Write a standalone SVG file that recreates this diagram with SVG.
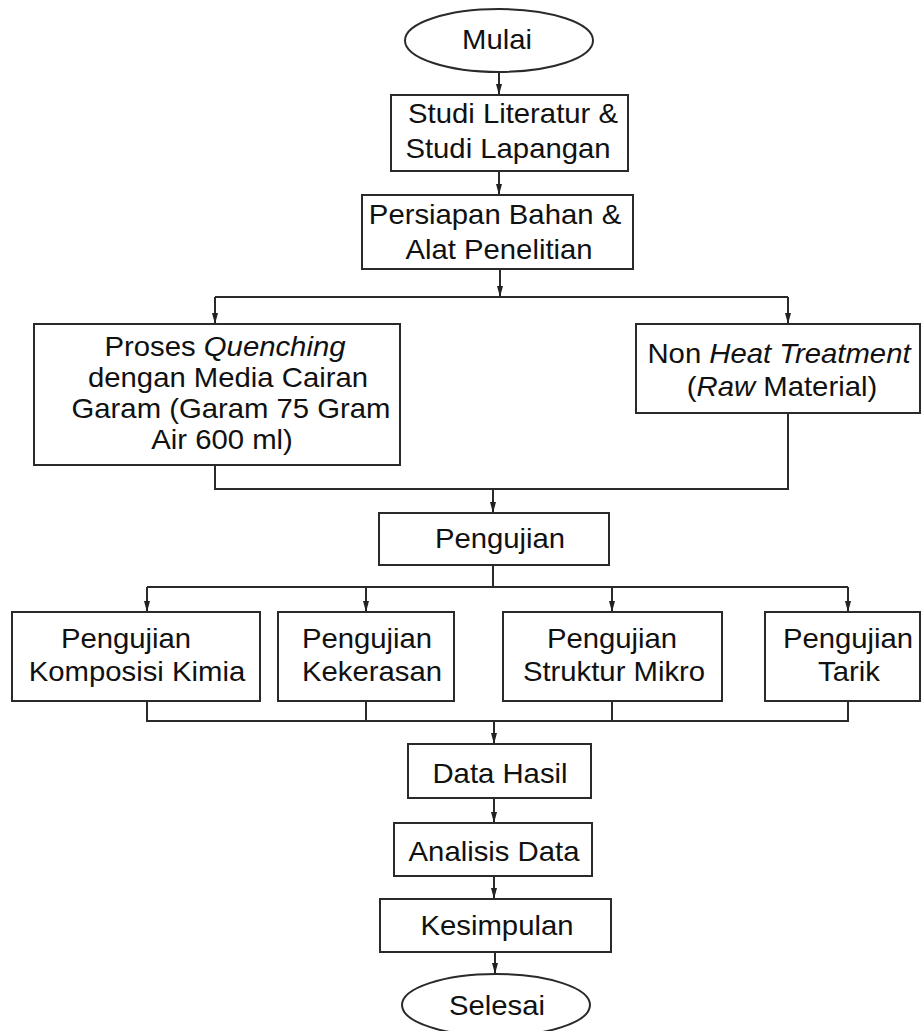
<svg xmlns="http://www.w3.org/2000/svg" width="921" height="1031" viewBox="0 0 921 1031">
<style>
.box{fill:#fff;stroke:#2a2a2a;stroke-width:2}
.t{font-family:"Liberation Sans",Arial,sans-serif;font-size:27px;fill:#111;text-anchor:middle}
.i{font-style:italic}
.c{fill:none;stroke:#2a2a2a;stroke-width:2}
.a{fill:none;stroke:#2a2a2a;stroke-width:2;marker-end:url(#ah)}
</style>
<defs>
<marker id="ah" markerUnits="userSpaceOnUse" markerWidth="11" markerHeight="6" refX="11" refY="3" orient="auto">
<path d="M0,0 L11,3 L0,6 z" fill="#222"/>
</marker>
</defs>
<rect width="921" height="1031" fill="#fff"/>
<g id="connectors">
<line class="a" x1="499" y1="72" x2="499" y2="95"/>
<line class="a" x1="499" y1="171" x2="499" y2="195"/>
<line class="a" x1="500" y1="269" x2="500" y2="297"/>
<polyline class="c" points="215,297 788,297"/>
<line class="a" x1="215" y1="297" x2="215" y2="324"/>
<line class="a" x1="788" y1="297" x2="788" y2="324"/>
<polyline class="c" points="215,465 215,489 788,489 788,413"/>
<line class="a" x1="493" y1="489" x2="493" y2="513"/>
<line class="c" x1="493" y1="565" x2="493" y2="587"/>
<polyline class="c" points="147,587 848,587"/>
<line class="a" x1="147" y1="587" x2="147" y2="612"/>
<line class="a" x1="366" y1="587" x2="366" y2="612"/>
<line class="a" x1="612" y1="587" x2="612" y2="612"/>
<line class="a" x1="848" y1="587" x2="848" y2="612"/>
<polyline class="c" points="147,701 147,721 848,721 848,701"/>
<line class="c" x1="366" y1="701" x2="366" y2="721"/>
<line class="c" x1="612" y1="701" x2="612" y2="721"/>
<line class="a" x1="494" y1="721" x2="494" y2="744"/>
<line class="a" x1="494" y1="798" x2="494" y2="823"/>
<line class="a" x1="494" y1="876" x2="494" y2="899"/>
<line class="a" x1="495" y1="952" x2="495" y2="974"/>
</g>
<g id="mulai">
<ellipse class="box" cx="499" cy="40.5" rx="94" ry="31.5"/>
<text class="t" transform="translate(497,49) scale(1.085,1)">Mulai</text>
</g>
<g id="studi">
<rect class="box" x="391" y="95" width="237" height="76"/>
<text class="t" transform="translate(513,123) scale(1.085,1)">Studi Literatur &amp;</text>
<text class="t" transform="translate(508,158) scale(1.085,1)">Studi Lapangan</text>
</g>
<g id="persiapan">
<rect class="box" x="362" y="195" width="271" height="74"/>
<text class="t" transform="translate(495,224) scale(1.085,1)">Persiapan Bahan &amp;</text>
<text class="t" transform="translate(499,259) scale(1.085,1)">Alat Penelitian</text>
</g>
<g id="quenching">
<rect class="box" x="34" y="324" width="366" height="141"/>
<text class="t" transform="translate(225,356) scale(1.085,1)">Proses <tspan class="i">Quenching</tspan></text>
<text class="t" transform="translate(228,387) scale(1.085,1)">dengan Media Cairan</text>
<text class="t" transform="translate(231,418) scale(1.085,1)">Garam (Garam 75 Gram</text>
<text class="t" transform="translate(222,449) scale(1.085,1)">Air 600 ml)</text>
</g>
<g id="nonheat">
<rect class="box" x="636" y="324" width="284" height="89"/>
<text class="t" transform="translate(779,363) scale(1.085,1)">Non <tspan class="i">Heat Treatment</tspan></text>
<text class="t" transform="translate(782,396) scale(1.085,1)">(<tspan class="i">Raw</tspan> Material)</text>
</g>
<g id="pengujian">
<rect class="box" x="379" y="513" width="230" height="52"/>
<text class="t" transform="translate(500,548) scale(1.085,1)">Pengujian</text>
</g>
<g id="komposisi">
<rect class="box" x="12" y="612" width="248" height="89"/>
<text class="t" transform="translate(126,648) scale(1.085,1)">Pengujian</text>
<text class="t" transform="translate(137,681) scale(1.085,1)">Komposisi Kimia</text>
</g>
<g id="kekerasan">
<rect class="box" x="278" y="612" width="176" height="89"/>
<text class="t" transform="translate(367,648) scale(1.085,1)">Pengujian</text>
<text class="t" transform="translate(372,681) scale(1.085,1)">Kekerasan</text>
</g>
<g id="struktur">
<rect class="box" x="503" y="612" width="219" height="89"/>
<text class="t" transform="translate(612,648) scale(1.085,1)">Pengujian</text>
<text class="t" transform="translate(614,681) scale(1.085,1)">Struktur Mikro</text>
</g>
<g id="tarik">
<rect class="box" x="765" y="612" width="155" height="89"/>
<text class="t" transform="translate(848,648) scale(1.085,1)">Pengujian</text>
<text class="t" transform="translate(849,681) scale(1.085,1)">Tarik</text>
</g>
<g id="datahasil">
<rect class="box" x="408" y="744" width="183" height="54"/>
<text class="t" transform="translate(500,783) scale(1.085,1)">Data Hasil</text>
</g>
<g id="analisis">
<rect class="box" x="394" y="823" width="198" height="53"/>
<text class="t" transform="translate(494,861) scale(1.085,1)">Analisis Data</text>
</g>
<g id="kesimpulan">
<rect class="box" x="380" y="899" width="231" height="53"/>
<text class="t" transform="translate(497,935) scale(1.085,1)">Kesimpulan</text>
</g>
<g id="selesai">
<ellipse class="box" cx="496" cy="1005" rx="94" ry="31"/>
<text class="t" transform="translate(497,1015) scale(1.085,1)">Selesai</text>
</g>
</svg>
